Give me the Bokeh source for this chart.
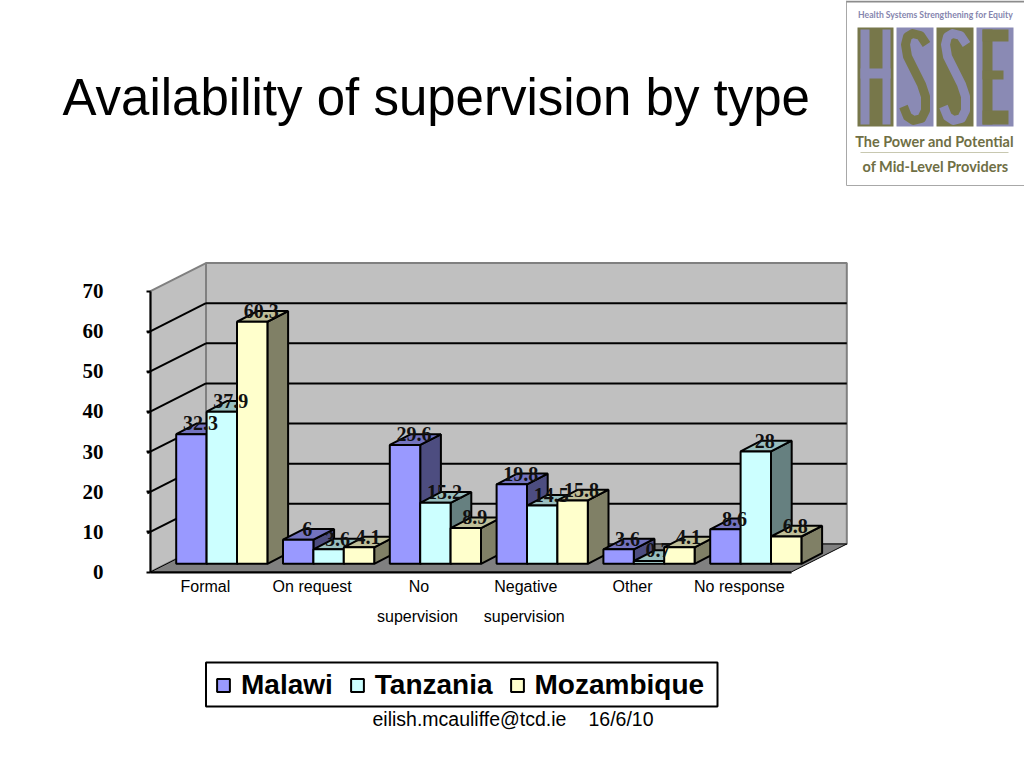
from bokeh.plotting import figure
from bokeh.models import LinearAxis, FixedTicker, Range1d, Legend, LegendItem
from bokeh.core.properties import value
from bokeh.embed import file_html
from bokeh.resources import INLINE

categories = ["Formal", "On request", "No", "Negative", "Other", "No response"]
categories_line2 = ["", "", "supervision", "supervision", "", ""]
series_names = ["Malawi", "Tanzania", "Mozambique"]
malawi = [32.3, 6, 29.6, 19.8, 3.6, 8.6]
tanzania = [37.9, 3.6, 15.2, 14.5, 0.7, 28]
mozambique = [60.3, 4.1, 8.9, 15.8, 4.1, 6.8]
y_ticks = [0, 10, 20, 30, 40, 50, 60, 70]

front_colors = ["#9999FF", "#CCFFFF", "#FFFFCC"]
top_colors = ["#7373BF", "#99BFBF", "#BFBF99"]
side_colors = ["#4D4D80", "#668080", "#808066"]

W, H = 1024, 768
PX_PER_CAT = 106.8
PX_PER_VAL = 4.014
X0_PX, Y0_PX = 150.0, 571.5
WALL_DX, WALL_DY = 55.5 / PX_PER_CAT, 28.0 / PX_PER_VAL
BAR_DX, BAR_DY = 20.7 / PX_PER_CAT, 10.7 / PX_PER_VAL
BASE_DY = 8.2 / PX_PER_VAL
GROUP_OFFSET = 25.7 / PX_PER_CAT
BAR_W = 30.4 / PX_PER_CAT
LABEL_SHIFT = 1.5 / PX_PER_CAT

p = figure(width=W, height=H, output_backend="svg", toolbar_location=None,
           x_range=Range1d((0 - X0_PX) / PX_PER_CAT, (W - X0_PX) / PX_PER_CAT),
           y_range=Range1d((Y0_PX - H) / PX_PER_VAL, Y0_PX / PX_PER_VAL),
           x_axis_location=None, y_axis_location=None, min_border=0,
           outline_line_color=None, background_fill_color="white",
           border_fill_color="white")
p.grid.visible = False
p.extra_x_ranges = {"px": Range1d(0, W)}
p.extra_y_ranges = {"px": Range1d(H, 0)}
PX = dict(x_range_name="px", y_range_name="px")

n = len(categories)
top = y_ticks[-1]

# walls and floor
p.patch([0, WALL_DX, WALL_DX, 0], [0, WALL_DY, top + WALL_DY, top],
        fill_color="#C0C0C0", line_color="#808080", line_width=2)
p.quad(left=WALL_DX, right=n + WALL_DX, bottom=WALL_DY, top=top + WALL_DY,
       fill_color="#C0C0C0", line_color="#808080", line_width=2)
p.patch([0, WALL_DX, n + WALL_DX, n], [0, WALL_DY, WALL_DY, 0],
        fill_color="#808080", line_color="black", line_width=1)

inner = y_ticks[1:-1]
p.segment(x0=[WALL_DX] * len(inner), x1=[n + WALL_DX] * len(inner),
          y0=[v + WALL_DY for v in inner], y1=[v + WALL_DY for v in inner],
          line_color="black", line_width=2)
p.segment(x0=[-0.03] * len(inner), x1=[WALL_DX] * len(inner),
          y0=[v - 0.03 * WALL_DY / WALL_DX for v in inner], y1=[v + WALL_DY for v in inner],
          line_color="black", line_width=2)

# bars, painted left to right
series = [malawi, tanzania, mozambique]
legend_renderers = [None, None, None]
for i in range(n):
    for s, vals in enumerate(series):
        v = vals[i]
        c0 = i + GROUP_OFFSET + s * BAR_W
        c1 = c0 + BAR_W
        p.patch([c1, c1 + BAR_DX, c1 + BAR_DX, c1],
                [BASE_DY, BASE_DY + BAR_DY, BASE_DY + BAR_DY + v, BASE_DY + v],
                fill_color=side_colors[s], line_color="black", line_width=2)
        p.patch([c0, c0 + BAR_DX, c1 + BAR_DX, c1],
                [BASE_DY + v, BASE_DY + BAR_DY + v, BASE_DY + BAR_DY + v, BASE_DY + v],
                fill_color=top_colors[s], line_color="black", line_width=2)
        r = p.quad(left=c0, right=c1, bottom=BASE_DY, top=BASE_DY + v,
                   fill_color=front_colors[s], line_color="black", line_width=2)
        if legend_renderers[s] is None:
            legend_renderers[s] = r

# data labels
lx, ly, lt = [], [], []
for i in range(n):
    for s, vals in enumerate(series):
        lx.append(i + GROUP_OFFSET + s * BAR_W + BAR_W / 2 + 9 / PX_PER_CAT)
        ly.append(BASE_DY + vals[i] + BAR_DY)
        lt.append(str(vals[i]))
p.text(lx, ly, text=lt, text_font=value("Liberation Serif"), text_font_style="bold",
       text_font_size="20px", text_color="#111111", text_align="center",
       text_baseline="middle")

# axes
yaxis = LinearAxis(fixed_location=0, bounds=(0, top), ticker=FixedTicker(ticks=y_ticks),
                   axis_line_color="black", axis_line_width=2,
                   major_tick_line_color="black", major_tick_line_width=2,
                   major_tick_out=4, major_tick_in=0, minor_tick_line_color=None,
                   major_label_standoff=43,
                   major_label_text_font="Liberation Serif",
                   major_label_text_font_style="bold",
                   major_label_text_font_size="21px", major_label_text_color="black")
p.add_layout(yaxis, "left")

tick_pos = [i + 0.5 + LABEL_SHIFT for i in range(n)]
xaxis = LinearAxis(fixed_location=0, bounds=(0, n),
                   ticker=FixedTicker(ticks=tick_pos),
                   major_label_overrides={t: c for t, c in zip(tick_pos, categories)},
                   axis_line_color="black", axis_line_width=2,
                   major_tick_line_color=None, minor_tick_line_color=None,
                   major_label_standoff=0,
                   major_label_text_font="Liberation Sans",
                   major_label_text_font_size="16px", major_label_text_color="black")
p.add_layout(xaxis, "below")

l2 = [(i + 0.5, c) for i, c in enumerate(categories_line2) if c]
p.text([a for a, _ in l2], [(Y0_PX - 615.5) / PX_PER_VAL] * len(l2), text=[b for _, b in l2],
       text_font=value("Liberation Sans"), text_font_size="16px", text_color="black",
       text_align="center", text_baseline="middle")

# legend: box behind a Bokeh legend
p.quad(left=[205.5], right=[717], top=[662], bottom=[706], fill_color="white",
       line_color="black", line_width=2, **PX)
legend = Legend(items=[LegendItem(label=nm, renderers=[r]) for nm, r in zip(series_names, legend_renderers)],
                orientation="horizontal", location=(215, H - 701),
                border_line_color=None, background_fill_alpha=0,
                label_text_font="Liberation Sans", label_text_font_style="bold",
                label_text_font_size="28px", label_text_color="black",
                glyph_width=16, glyph_height=16, label_standoff=10, spacing=16,
                padding=0, margin=0)
p.add_layout(legend)

# slide texts
p.text([62], [97], text=["Availability of supervision by type"],
       text_font=value("Liberation Sans"), text_font_size="51px", text_color="black",
       text_align="left", text_baseline="middle", **PX)
p.text([372, 588], [718, 718], text=["eilish.mcauliffe@tcd.ie", "16/6/10"],
       text_font=value("Liberation Sans"), text_font_size="19.5px", text_color="black",
       text_align="left", text_baseline="middle", **PX)

# logo
OLIVE, LILAC = "#77774A", "#8A8AB4"
p.segment([846, 846], [0, 185], [846, 1024], [185, 185], line_color="#A8A8A8", line_width=1, **PX)
p.segment([846], [1], [1024], [1], line_color="#8C8C8C", line_width=2, **PX)
p.text([935], [14], text=["Health Systems Strengthening for Equity"],
       text_font=value("Lato"), text_font_style="bold", text_font_size="8.6px",
       text_color="#8585AE", text_align="center", text_baseline="middle", **PX)
p.quad(left=[857, 896, 936, 976], right=[893, 933, 973, 1013], bottom=[126] * 4, top=[27] * 4,
       fill_color=[OLIVE, LILAC, OLIVE, LILAC], line_color=None, **PX)
# H
p.quad(left=[860, 882, 860], right=[869, 890, 890], top=[29, 29, 68], bottom=[124, 124, 78],
       fill_color=LILAC, line_color=None, **PX)
# S S
s_x = [926, 920, 912, 907, 905, 907, 912, 921, 925, 925, 921, 913, 907, 903]
s_y = [44, 35, 33, 36, 44, 56, 66, 84, 96, 110, 118, 120, 116, 106]
p.line(s_x, s_y, line_color=OLIVE, line_width=9, line_join="round", **PX)
p.line([x + 40 for x in s_x], s_y, line_color=LILAC, line_width=9, line_join="round", **PX)
# E
p.quad(left=[982, 982, 982, 982], right=[992, 1008, 1003, 1008], top=[29, 29, 70, 110],
       bottom=[124, 41, 79, 124], fill_color=OLIVE, line_color=None, **PX)
p.text([934], [141], text=["The Power and Potential"],
       text_font=value("Lato"), text_font_style="bold", text_font_size="14.5px",
       text_color="#6F6F45", text_align="center", text_baseline="middle", **PX)
p.segment([860], [152], [1008], [152], line_color="#C8C8B0", line_width=1, **PX)
p.text([935], [166], text=["of Mid-Level Providers"],
       text_font=value("Lato"), text_font_style="bold", text_font_size="14.5px",
       text_color="#6F6F45", text_align="center", text_baseline="middle", **PX)

open("out.html", "w").write(file_html(p, INLINE))
